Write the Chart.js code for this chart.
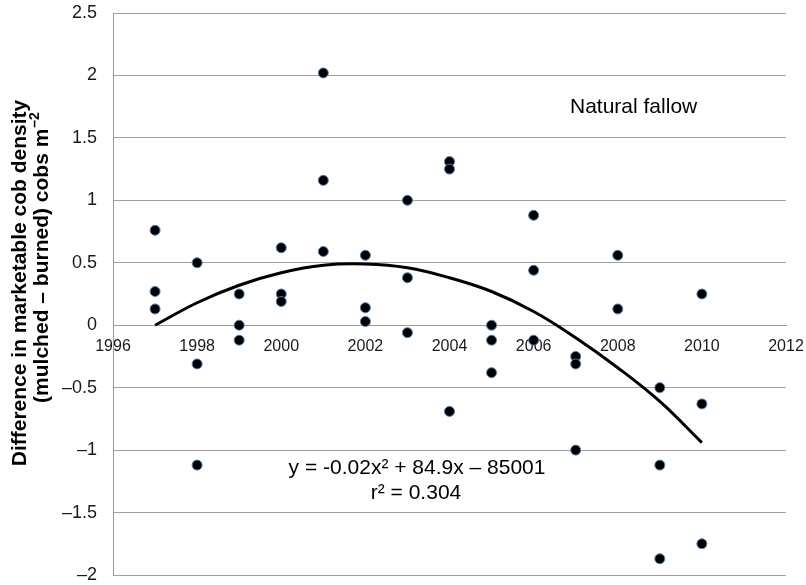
<!DOCTYPE html>
<html>
<head>
<meta charset="utf-8">
<script src="https://cdn.jsdelivr.net/npm/chart.js@4/dist/chart.umd.min.js"></script>
<style>
  html, body { margin: 0; padding: 0; background: #fff; }
  #wrap { width: 806px; height: 585px; }
</style>
</head>
<body>
<div id="wrap"><canvas id="c" width="806" height="585"></canvas></div>
<script>
// ---- Data ----
const pointYears = [
  1997, 1997, 1997,
  1998, 1998, 1998,
  1999, 1999, 1999,
  2000, 2000, 2000,
  2001, 2001, 2001,
  2002, 2002, 2002,
  2003, 2003, 2003,
  2004, 2004, 2004,
  2005, 2005, 2005,
  2006, 2006, 2006,
  2007, 2007, 2007,
  2008, 2008,
  2009, 2009, 2009,
  2010, 2010, 2010
];
const pointValues = [
  0.76, 0.27, 0.13,
  0.50, -0.31, -1.12,
  0.25, 0.00, -0.12,
  0.62, 0.25, 0.19,
  2.02, 1.16, 0.59,
  0.56, 0.14, 0.03,
  1.00, 0.38, -0.06,
  1.31, 1.25, -0.69,
  0.00, -0.12, -0.38,
  0.88, 0.44, -0.12,
  -0.25, -0.31, -1.00,
  0.56, 0.13,
  -0.50, -1.12, -1.87,
  0.25, -0.63, -1.75
];
// Trend curve
const curveYears  = [1997, 1998, 1999, 2000, 2001, 2002, 2003, 2004, 2005, 2006, 2007, 2008, 2009, 2010];
const curveValues = [0.00, 0.18, 0.32, 0.42, 0.48, 0.49, 0.46, 0.38, 0.27, 0.11, -0.10, -0.34, -0.61, -0.94];

const xTicks = [1996, 1998, 2000, 2002, 2004, 2006, 2008, 2010, 2012];
const xTickLabels = ['1996', '1998', '2000', '2002', '2004', '2006', '2008', '2010', '2012'];
const yTicks = [-2, -1.5, -1, -0.5, 0, 0.5, 1, 1.5, 2, 2.5];
const yTickLabels = ['\u20132', '\u20131.5', '\u20131', '\u20130.5', '0', '0.5', '1', '1.5', '2', '2.5'];

const titleLine1 = 'Difference in marketable cob density';
const titleLine2 = '(mulched \u2013 burned) cobs m';
const titleLine2Sup = '\u20132';
const annotation = 'Natural fallow';
const equationText = 'y = -0.02x\u00B2 + 84.9x \u2013 85001';
const r2Text = 'r\u00B2 = 0.304';

// ---- Build ----
const FONT = '"Liberation Sans", Arial, Helvetica, sans-serif';
Chart.defaults.font.family = FONT;
Chart.defaults.color = '#1a1a1a';

const scatterData = pointYears.map((x, i) => ({ x: x, y: pointValues[i] }));
const curveData = curveYears.map((x, i) => ({ x: x, y: curveValues[i] }));

const textPlugin = {
  id: 'texts',
  afterDraw(chart) {
    const ctx = chart.ctx;
    ctx.save();
    ctx.fillStyle = '#000';
    // Y axis title (rotated)
    ctx.font = 'bold 21px ' + FONT;
    ctx.textBaseline = 'middle';
    ctx.save();
    ctx.translate(20, 283);
    ctx.rotate(-Math.PI / 2);
    ctx.textAlign = 'center';
    ctx.fillText(titleLine1, 0, 0);
    ctx.restore();

    ctx.save();
    ctx.translate(42, 258);
    ctx.rotate(-Math.PI / 2);
    ctx.textAlign = 'left';
    ctx.font = 'bold 21px ' + FONT;
    const w1 = ctx.measureText(titleLine2).width;
    ctx.font = 'bold 14px ' + FONT;
    const w2 = ctx.measureText(titleLine2Sup).width;
    const start = -(w1 + w2) / 2;
    ctx.font = 'bold 21px ' + FONT;
    ctx.fillText(titleLine2, start, 0);
    ctx.font = 'bold 14px ' + FONT;
    ctx.fillText(titleLine2Sup, start + w1 + 1, -7);
    ctx.restore();

    // Annotations
    ctx.font = '21px ' + FONT;
    ctx.textBaseline = 'alphabetic';
    ctx.textAlign = 'left';
    ctx.fillText(annotation, 570, 113);
    ctx.textAlign = 'center';
    ctx.fillText(equationText, 417, 474);
    ctx.fillText(r2Text, 416, 499);
    ctx.restore();
  }
};

new Chart(document.getElementById('c'), {
  type: 'scatter',
  data: {
    datasets: [
      {
        label: 'Curve',
        type: 'line',
        data: curveData,
        borderColor: '#000',
        borderWidth: 3,
        pointRadius: 0,
        fill: false,
        tension: 0.4,
        order: 2
      },
      {
        label: 'Points',
        data: scatterData,
        backgroundColor: '#000',
        borderColor: '#4f81bd',
        borderWidth: 1,
        pointRadius: 5,
        order: 1
      }
    ]
  },
  options: {
    responsive: false,
    animation: false,
    events: [],
    layout: { padding: { left: 0, right: 20, top: 13, bottom: 10 } },
    plugins: {
      legend: { display: false },
      tooltip: { enabled: false },
      title: { display: false }
    },
    scales: {
      x: {
        type: 'linear',
        min: 1996,
        max: 2012,
        position: { y: 0 },
        afterBuildTicks(scale) { scale.ticks = xTicks.map(v => ({ value: v })); },
        afterFit(scale) { scale.height = 0; scale.paddingLeft = 0; scale.paddingRight = 0; },
        grid: { display: false, drawTicks: false },
        border: { display: true, color: '#999', width: 1 },
        ticks: {
          padding: 12,
          font: { size: 16 },
          color: '#1a1a1a',
          maxRotation: 0,
          autoSkip: false,
          callback(v) { const i = xTicks.indexOf(v); return i >= 0 ? xTickLabels[i] : ''; }
        }
      },
      y: {
        type: 'linear',
        min: -2,
        max: 2.5,
        afterBuildTicks(scale) { scale.ticks = yTicks.map(v => ({ value: v })); },
        afterFit(scale) { scale.width = 113; scale.paddingTop = 0; scale.paddingBottom = 0; },
        grid: { color: '#a0a0a0', lineWidth: 1, drawTicks: false },
        border: { display: true, color: '#999', width: 1 },
        ticks: {
          padding: 16,
          font: { size: 18 },
          color: '#1a1a1a',
          autoSkip: false,
          callback(v) { const i = yTicks.indexOf(v); return i >= 0 ? yTickLabels[i] : ''; }
        }
      }
    }
  },
  plugins: [textPlugin]
});
</script>
</body>
</html>
